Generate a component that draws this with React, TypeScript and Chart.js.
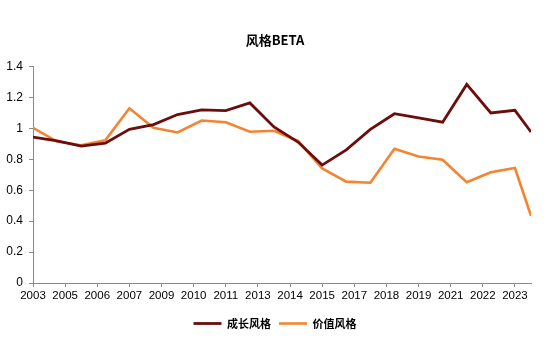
import React, { useEffect, useRef } from "react";
import { Chart, registerables } from "chart.js";

Chart.register(...registerables);

// Observation dates (year-end points plus the latest partial-year point)
const dates = [
  "2003-12", "2004-12", "2005-12", "2006-12", "2007-12", "2008-12", "2009-12",
  "2010-12", "2011-12", "2012-12", "2013-12", "2014-12", "2015-12", "2016-12",
  "2017-12", "2018-12", "2019-12", "2020-12", "2021-12", "2022-12", "2023-12",
  "2024-08",
];

// 成长风格
const growth = [
  0.944, 0.92, 0.885, 0.905, 0.994, 1.025, 1.09, 1.12, 1.115, 1.165, 1.01,
  0.912, 0.763, 0.861, 0.994, 1.095, 1.068, 1.04, 1.285, 1.1, 1.117, 0.977,
];

// 价值风格
const valueStyle = [
  1.004, 0.915, 0.891, 0.923, 1.13, 1.004, 0.974, 1.051, 1.04, 0.979, 0.985,
  0.919, 0.741, 0.656, 0.649, 0.869, 0.818, 0.797, 0.652, 0.716, 0.744, 0.434,
];

// x-axis tick labels, one every 16 months starting at the first date
const xTickLabels = [
  "2003", "2005", "2006", "2007", "2009", "2010", "2011", "2013",
  "2014", "2015", "2017", "2018", "2019", "2021", "2022", "2023",
];
const tickStepMonths = 16;

const seriesNames = ["成长风格", "价值风格"];
const titleText = "风格BETA";

function monthIndex(d: string): number {
  const [y, m] = d.split("-").map(Number);
  const [y0, m0] = dates[0].split("-").map(Number);
  return (y - y0) * 12 + (m - m0);
}

export default function App() {
  const canvasRef = useRef<HTMLCanvasElement | null>(null);

  useEffect(() => {
    const canvas = canvasRef.current;
    if (!canvas) return;
    const toPoints = (arr: number[]) =>
      arr.map((v, i) => ({ x: monthIndex(dates[i]), y: v }));

    const tickFont = { family: "'Liberation Sans', Arial, sans-serif", size: 12 };
    const axisColor = "#8a8a8a";

    const chart = new Chart(canvas, {
      type: "line",
      data: {
        datasets: [
          {
            label: seriesNames[0],
            data: toPoints(growth),
            borderColor: "#6b0d0d",
            backgroundColor: "#6b0d0d",
            borderWidth: 2.8,
            pointRadius: 0,
            tension: 0,
            borderJoinStyle: "miter",
          },
          {
            label: seriesNames[1],
            data: toPoints(valueStyle),
            borderColor: "#f4842f",
            backgroundColor: "#f4842f",
            borderWidth: 2.6,
            pointRadius: 0,
            tension: 0,
            borderJoinStyle: "miter",
          },
        ],
      },
      options: {
        animation: false,
        responsive: false,
        maintainAspectRatio: false,
        layout: { padding: { top: 0, left: 0, right: 0, bottom: 0 } },
        plugins: {
          title: {
            display: true,
            text: titleText,
            color: "#000",
            font: { family: "'Noto Sans CJK SC', sans-serif", size: 13, weight: "bold" },
            padding: { top: 32, bottom: 19 },
          },
          legend: {
            display: true,
            position: "bottom",
            labels: {
              usePointStyle: true,
              pointStyle: "line",
              pointStyleWidth: 28,
              padding: 8,
              color: "#000",
              font: { family: "'Noto Sans CJK SC', sans-serif", size: 11, weight: "bold" },
            },
          },
          tooltip: { enabled: false },
        },
        scales: {
          x: {
            type: "linear",
            min: 0,
            max: monthIndex(dates[dates.length - 1]),
            afterBuildTicks: (scale: any) => {
              scale.ticks = xTickLabels.map((_, i) => ({ value: i * tickStepMonths }));
            },
            afterFit: (scale: any) => {
              scale.height = 27;
            },
            ticks: {
              autoSkip: false,
              maxRotation: 0,
              minRotation: 0,
              padding: 2,
              color: "#000",
              font: { ...tickFont, size: 11.5 },
              callback: (v: any) => xTickLabels[Math.round(Number(v) / tickStepMonths)] ?? "",
            },
            grid: {
              display: true,
              drawOnChartArea: false,
              drawTicks: true,
              tickLength: 4,
              color: axisColor,
            },
            border: { display: true, color: axisColor, width: 1 },
          },
          y: {
            type: "linear",
            position: "left",
            min: 0,
            max: 1.4,
            afterFit: (scale: any) => {
              scale.width = 33;
            },
            ticks: {
              stepSize: 0.2,
              padding: 6,
              color: "#000",
              font: tickFont,
              callback: (v: any) => String(+Number(v).toFixed(1)),
            },
            grid: {
              display: true,
              drawOnChartArea: false,
              drawTicks: true,
              tickLength: 4,
              color: axisColor,
            },
            border: { display: true, color: axisColor, width: 1 },
          },
          spacer: {
            type: "linear",
            position: "right",
            display: true,
            afterFit: (scale: any) => {
              scale.width = 19;
            },
            ticks: { display: false },
            grid: { display: false, drawTicks: false },
            border: { display: false },
          },
        },
      } as any,
    });

    return () => {
      chart.destroy();
    };
  }, []);

  return (
    <div style={{ position: "fixed", left: 0, top: 0, width: 550, height: 339, background: "#fff" }}>
      <canvas ref={canvasRef} width={550} height={339} style={{ width: 550, height: 339 }} />
    </div>
  );
}
